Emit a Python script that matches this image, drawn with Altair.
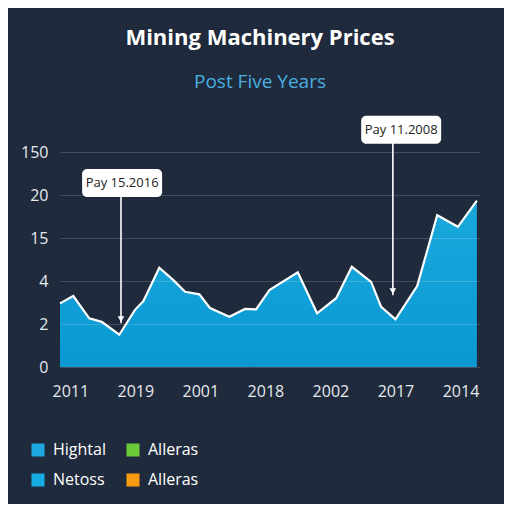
import altair as alt
import pandas as pd

# ---- data ----
x_pos = [-0.158, 0.046, 0.292, 0.483, 0.754, 0.995, 1.123, 1.369, 1.585, 1.765,
         1.985, 2.149, 2.446, 2.688, 2.857, 3.062, 3.498, 3.795, 4.088, 4.329,
         4.626, 4.780, 5.0, 5.334, 5.642, 5.960, 6.252]
values = [1.48, 1.65, 1.13, 1.05, 0.75, 1.33, 1.53, 2.31, 2.02, 1.75,
          1.69, 1.37, 1.17, 1.35, 1.34, 1.79, 2.20, 1.25, 1.60, 2.33,
          1.98, 1.40, 1.11, 1.88, 3.53, 3.26, 3.87]
x_labels = ["2011", "2019", "2001", "2018", "2002", "2017", "2014"]
y_labels = ["0", "2", "4", "15", "20", "150"]

ann_text = ["Pay 15.2016", "Pay 11.2008"]
ann_box_x = [0.797, 5.088]
ann_box_y = [4.28, 5.52]
ann_arrow_x = [0.78, 4.96]
ann_tip_y = [1.02, 1.67]

# legend entries, listed column by column
legend_labels = ["Hightal", "Netoss", "Alleras", "Alleras"]
legend_colors = ["#1ea7e1", "#16ade6", "#6cc93a", "#f59c12"]

BG = "#1f2a3c"
FONT = "Open Sans"

series = pd.DataFrame({"x": x_pos, "v": values})
ann = pd.DataFrame({"t": ann_text, "bx": ann_box_x, "by": ann_box_y,
                    "ax": ann_arrow_x, "tip": ann_tip_y})
legend_keys = [f"{i}:{l}" for i, l in enumerate(legend_labels)]
leg = pd.DataFrame({"k": legend_keys})

x_scale = alt.Scale(domain=[-0.158, 6.3], nice=False, zero=False)
y_scale = alt.Scale(domain=[0, 5], nice=False)

x_lab_js = "[" + ",".join(f"'{s}'" for s in x_labels) + "]"
y_lab_js = "[" + ",".join(f"'{s}'" for s in y_labels) + "]"

x_enc = alt.X("x:Q", scale=x_scale,
              axis=alt.Axis(values=list(range(len(x_labels))),
                            labelExpr=f"{x_lab_js}[datum.value]",
                            grid=False, title=None, labelPadding=16))
y_enc = alt.Y("v:Q", scale=y_scale,
              axis=alt.Axis(values=list(range(len(y_labels))),
                            labelExpr=f"{y_lab_js}[datum.value]",
                            grid=True, title=None, labelPadding=12, zindex=1))

area = alt.Chart(series).mark_area(
    color=alt.Gradient(gradient="linear", x1=0, y1=0, x2=0, y2=1,
                       stops=[alt.GradientStop(color="#1aa9dc", offset=0),
                              alt.GradientStop(color="#0a98d3", offset=1)])
).encode(x=x_enc, y=y_enc)

line = alt.Chart(series).mark_line(color="white", strokeWidth=2.2).encode(
    x=alt.X("x:Q", scale=x_scale), y=alt.Y("v:Q", scale=y_scale))

rule = alt.Chart(ann).mark_rule(color="white", strokeWidth=1.6).encode(
    x=alt.X("ax:Q", scale=x_scale), y=alt.Y("by:Q", scale=y_scale), y2="tip:Q")

tip = alt.Chart(ann).mark_point(shape="triangle-down", filled=True, color="white",
                                size=45, opacity=1, yOffset=-4).encode(
    x=alt.X("ax:Q", scale=x_scale), y=alt.Y("tip:Q", scale=y_scale))

box = alt.Chart(ann).mark_rect(color="white", cornerRadius=5,
                               xOffset=-40, x2Offset=40, yOffset=-14, y2Offset=14).encode(
    x=alt.X("bx:Q", scale=x_scale), x2="bx:Q",
    y=alt.Y("by:Q", scale=y_scale), y2="by:Q")

txt = alt.Chart(ann).mark_text(color="#222222", fontSize=13, font=FONT).encode(
    x=alt.X("bx:Q", scale=x_scale), y=alt.Y("by:Q", scale=y_scale), text="t:N")

legend_layer = alt.Chart(leg).mark_square(opacity=0).encode(
    color=alt.Color("k:N",
                    scale=alt.Scale(domain=legend_keys, range=legend_colors),
                    legend=alt.Legend(orient="none", legendX=-30, legendY=290,
                                      columns=2, columnPadding=19, rowPadding=14,
                                      symbolType="square", symbolSize=170,
                                      symbolOpacity=1, symbolStrokeWidth=0,
                                      labelColor="white", labelFontSize=16,
                                      labelFont=FONT, labelOffset=7,
                                      labelExpr="split(datum.label, ':')[1]",
                                      title=None, padding=0)))

chart = alt.layer(area, line, rule, tip, box, txt, legend_layer).properties(
    width=420, height=215,
    autosize="none",
    padding={"left": 52, "top": 144, "right": 24, "bottom": 137},
    background=BG,
    title=alt.Title("Mining Machinery Prices", subtitle="Post Five Years",
                    anchor="middle", frame="group", offset=23, dx=-10,
                    color="white", fontSize=22, fontWeight="bold", font=FONT,
                    subtitleColor="#4aaee0", subtitleFontSize=19, subtitleFont=FONT,
                    subtitlePadding=23),
).configure_view(stroke=None).configure_axis(
    domain=False, ticks=False, labelColor="#e6e9ee", labelFontSize=16,
    labelFont=FONT, gridColor="#ffffff", gridOpacity=0.16, gridWidth=1.2)

chart.save("out.html", embed_options={"renderer": "svg", "actions": False})
